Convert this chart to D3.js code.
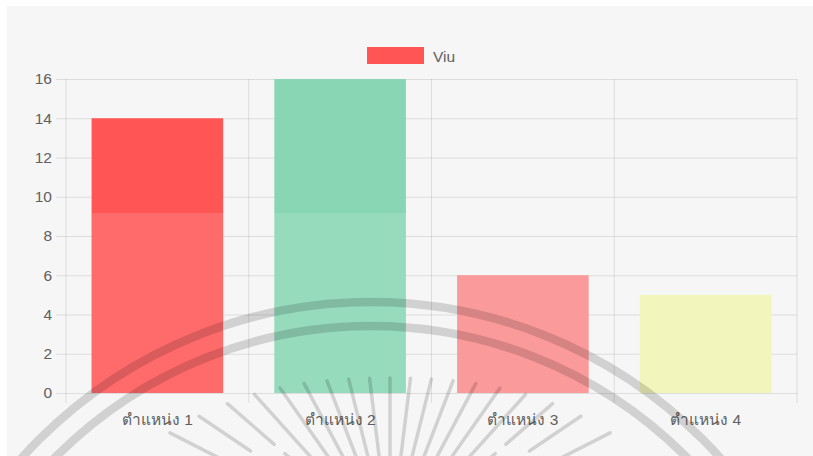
<!DOCTYPE html>
<html>
<head>
<meta charset="utf-8">
<script src="https://cdn.jsdelivr.net/npm/d3@7/dist/d3.min.js"></script>
<style>
  html, body { margin: 0; padding: 0; background: #ffffff; }
  svg { display: block; }
  text { font-family: "Helvetica Neue", Helvetica, Arial, "Liberation Sans", "Noto Sans", sans-serif; }
</style>
</head>
<body>
<svg id="chart" width="813" height="456"></svg>
<script>
// Chart data
const categories = ["ตำแหน่ง 1", "ตำแหน่ง 2", "ตำแหน่ง 3", "ตำแหน่ง 4"];
const viuValues = [14, 16, 6, 5];
const barColors = ["#ff5555", "#88d6b4", "#fb8c8c", "#f0f4b3"];
const seriesName = "Viu";
const yTicks = [0, 2, 4, 6, 8, 10, 12, 14, 16];

const svg = d3.select("#chart");
const W = 813, H = 456;

// Panel background
svg.append("rect").attr("x", 7).attr("y", 6).attr("width", W - 7).attr("height", H - 6)
  .attr("fill", "#f6f6f6");

const plot = { left: 66, right: 797, top: 79, bottom: 393 };

const x = d3.scaleBand().domain(categories).range([plot.left, plot.right]).padding(0);
const y = d3.scaleLinear().domain([0, 16]).range([plot.bottom, plot.top]);

const gridColor = "rgba(0,0,0,0.1)";
const labelColor = "#606060";
const fontSize = 15.5;

// Horizontal grid + y ticks
const yAxis = d3.axisLeft(y).tickValues(yTicks).tickSize(10).tickPadding(4);
const gy = svg.append("g").attr("transform", `translate(${plot.left},0)`).call(yAxis);
gy.select(".domain").remove();
gy.selectAll(".tick line").attr("stroke", gridColor);
gy.selectAll(".tick text").attr("fill", labelColor).attr("font-size", fontSize);
gy.selectAll(".tick").append("line")
  .attr("x1", 0).attr("x2", plot.right - plot.left)
  .attr("stroke", gridColor);

// Vertical grid lines at category edges, with small tick extensions
const edges = categories.map(c => x(c)).concat([plot.right]);
svg.append("g").selectAll("line").data(edges).join("line")
  .attr("x1", d => d).attr("x2", d => d)
  .attr("y1", plot.top).attr("y2", plot.bottom + 10)
  .attr("stroke", gridColor);

// Category labels
const xAxis = d3.axisBottom(x).tickSize(0).tickPadding(21);
const gx = svg.append("g").attr("transform", `translate(0,${plot.bottom})`).call(xAxis);
gx.select(".domain").remove();
gx.selectAll(".tick text").attr("fill", labelColor).attr("font-size", fontSize);

// Bars
const barFrac = 0.72;
const barX = i => x(categories[i]) + x.bandwidth() * (1 - barFrac) / 2;
svg.append("g").selectAll("rect").data(viuValues).join("rect")
  .attr("x", (d, i) => barX(i))
  .attr("width", x.bandwidth() * barFrac)
  .attr("y", d => y(d))
  .attr("height", d => y(0) - y(d))
  .attr("fill", (d, i) => barColors[i]);

// Faint light wash over the lower part of each bar
const washTop = 213;
svg.append("g").selectAll("rect").data(viuValues).join("rect")
  .attr("x", (d, i) => barX(i))
  .attr("width", x.bandwidth() * barFrac)
  .attr("y", d => Math.max(y(d), washTop))
  .attr("height", d => y(0) - Math.max(y(d), washTop))
  .attr("fill", "#ffffff").attr("opacity", 0.13);

// Legend
const lg = svg.append("g");
lg.append("rect").attr("x", 367).attr("y", 47).attr("width", 57).attr("height", 17)
  .attr("fill", barColors[0]);
lg.append("text").attr("x", 433).attr("y", 61.5).attr("font-size", fontSize)
  .attr("fill", labelColor).text(seriesName);

// Seal watermark: two rings and a fan of rays
const mark = svg.append("g").attr("pointer-events", "none");
const ink = "rgba(0,0,0,0.15)";
[469, 445].forEach(r => {
  mark.append("circle").attr("cx", 371).attr("cy", 771).attr("r", r)
    .attr("fill", "none").attr("stroke", ink).attr("stroke-width", 8.5);
});
const sun = { x: 390, y: 545 };
for (let deg = -63; deg <= 63; deg += 7) {
  const a = deg * Math.PI / 180;
  const t = Math.abs(deg) / 63;
  const r0 = 167 + 80 * t * t;
  const outer = Math.abs(deg) >= 45;
  mark.append("line")
    .attr("x1", sun.x + r0 * Math.sin(a)).attr("y1", sun.y - r0 * Math.cos(a))
    .attr("x2", sun.x + 40 * Math.sin(a)).attr("y2", sun.y - 40 * Math.cos(a))
    .attr("stroke", ink).attr("stroke-width", 3.5).attr("stroke-linecap", "round")
    .attr("stroke-dasharray", outer ? "62 14" : null);
}
</script>
</body>
</html>
